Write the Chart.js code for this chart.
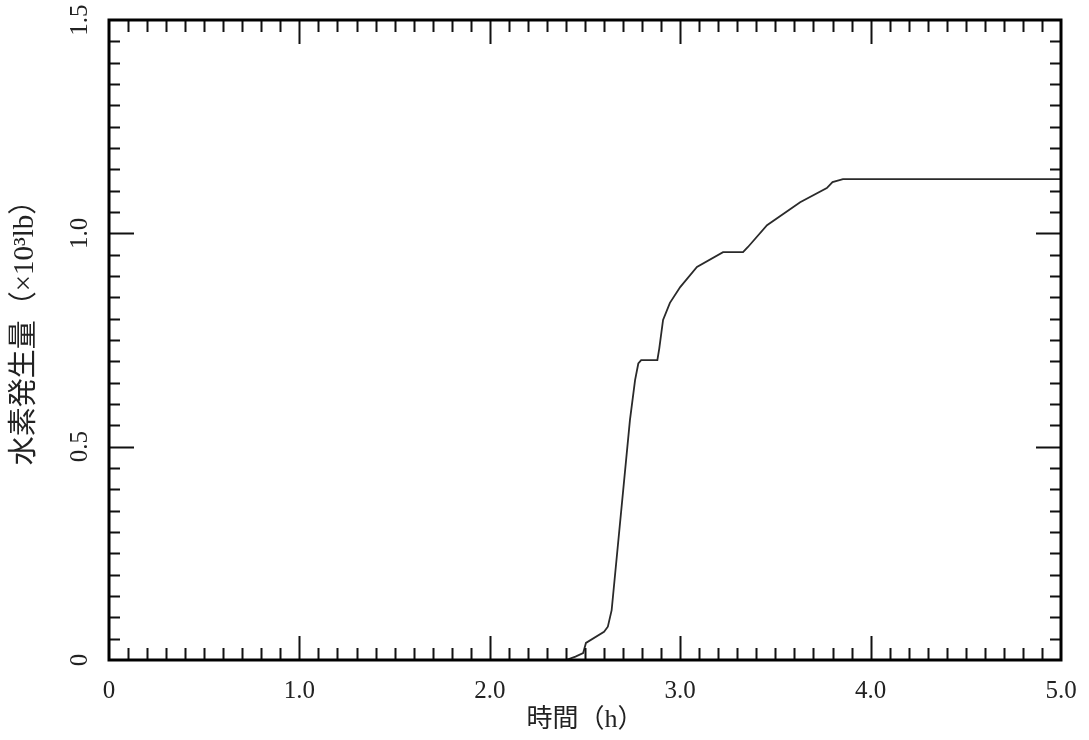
<!DOCTYPE html>
<html>
<head>
<meta charset="utf-8">
<script src="https://cdn.jsdelivr.net/npm/chart.js@4.4.0/dist/chart.umd.min.js"></script>
<style>
  html, body { margin: 0; padding: 0; background: #fff; }
  #wrap { width: 1089px; height: 740px; }
</style>
</head>
<body>
<div id="wrap"><canvas id="chart" width="1089" height="740"></canvas></div>
<script>
// === Data ===
const timeH = [0, 2.40, 2.45, 2.49, 2.505, 2.60, 2.62, 2.64, 2.736, 2.763, 2.78, 2.795, 2.88, 2.89, 2.91,
  2.946, 3.00, 3.088, 3.225, 3.33, 3.356, 3.456, 3.63, 3.77, 3.80, 3.855, 5.0];
const hydrogen = [0, 0, 0.008, 0.016, 0.04, 0.066, 0.078, 0.117, 0.562, 0.656, 0.695, 0.703, 0.703, 0.73, 0.797,
  0.837, 0.874, 0.921, 0.956, 0.956, 0.968, 1.019, 1.073, 1.106, 1.12, 1.127, 1.127];

const xMajorLabels = ['0', '1.0', '2.0', '3.0', '4.0', '5.0'];
const yMajorLabels = ['0', '0.5', '1.0', '1.5'];

const xTitle = '時間（h）';
const yTitle = '\u3000水素発生量（×10³lb）'; // leading space nudges the rotated title up a bit

const serif = "'Liberation Serif', 'Noto Sans CJK JP', serif";
const near = (v, step) => Math.abs(v / step - Math.round(v / step)) < 1e-6;

// === Inward ticks + frame ===
const frameTicks = {
  id: 'frameTicks',
  afterDraw(chart) {
    const { ctx, chartArea: a, scales: { x, y } } = chart;
    ctx.save();
    ctx.strokeStyle = '#111';
    ctx.lineWidth = 2;
    ctx.beginPath();
    x.ticks.forEach(t => {
      if (t.value <= 0 || t.value >= 5) return;
      const px = Math.round(x.getPixelForValue(t.value)) + 0.5;
      const len = near(t.value, 1) ? 24 : 12;
      ctx.moveTo(px, a.bottom); ctx.lineTo(px, a.bottom - len);
      ctx.moveTo(px, a.top); ctx.lineTo(px, a.top + len);
    });
    y.ticks.forEach(t => {
      if (t.value <= 0 || t.value >= 1.5) return;
      const py = Math.round(y.getPixelForValue(t.value)) + 0.5;
      const len = near(t.value, 0.5) ? 25 : 11;
      ctx.moveTo(a.left, py); ctx.lineTo(a.left + len, py);
      ctx.moveTo(a.right, py); ctx.lineTo(a.right - len, py);
    });
    ctx.stroke();
    ctx.lineWidth = 3;
    ctx.strokeStyle = '#000';
    ctx.strokeRect(a.left, a.top, a.right - a.left, a.bottom - a.top);
    ctx.restore();
  }
};

new Chart(document.getElementById('chart'), {
  type: 'line',
  data: {
    datasets: [{
      data: timeH.map((t, i) => ({ x: t, y: hydrogen[i] })),
      borderColor: '#2a2a2a',
      borderWidth: 1.8,
      pointRadius: 0,
      tension: 0,
      fill: false
    }]
  },
  options: {
    responsive: false,
    animation: false,
    layout: { padding: { top: 10, right: 28, left: 0, bottom: 0 } },
    plugins: { legend: { display: false }, tooltip: { enabled: false } },
    scales: {
      x: {
        type: 'linear',
        min: 0, max: 5,
        afterFit: s => { s.height = 80; },
        grid: { display: false },
        border: { display: false },
        ticks: {
          stepSize: 0.1,
          maxTicksLimit: 200,
          autoSkip: false,
          maxRotation: 0,
          padding: 8,
          color: '#222',
          font: { family: serif, size: 25 },
          callback: v => near(v, 1) ? xMajorLabels[Math.round(v)] : ''
        },
        title: {
          display: true,
          text: xTitle,
          color: '#222',
          font: { family: serif, size: 26 },
          padding: { top: 2 }
        }
      },
      y: {
        min: 0, max: 1.5,
        afterFit: s => { s.width = 109; },
        grid: { display: false },
        border: { display: false },
        ticks: {
          stepSize: 0.05,
          maxTicksLimit: 200,
          autoSkip: false,
          minRotation: 90,
          maxRotation: 90,
          crossAlign: 'center',
          padding: 5,
          color: '#222',
          font: { family: serif, size: 25 },
          callback: v => near(v, 0.5) ? yMajorLabels[Math.round(v / 0.5)] : ''
        },
        title: {
          display: true,
          text: yTitle,
          color: '#222',
          font: { family: serif, size: 29 },
          padding: { top: 8 }
        }
      }
    }
  },
  plugins: [frameTicks]
});
</script>
</body>
</html>
